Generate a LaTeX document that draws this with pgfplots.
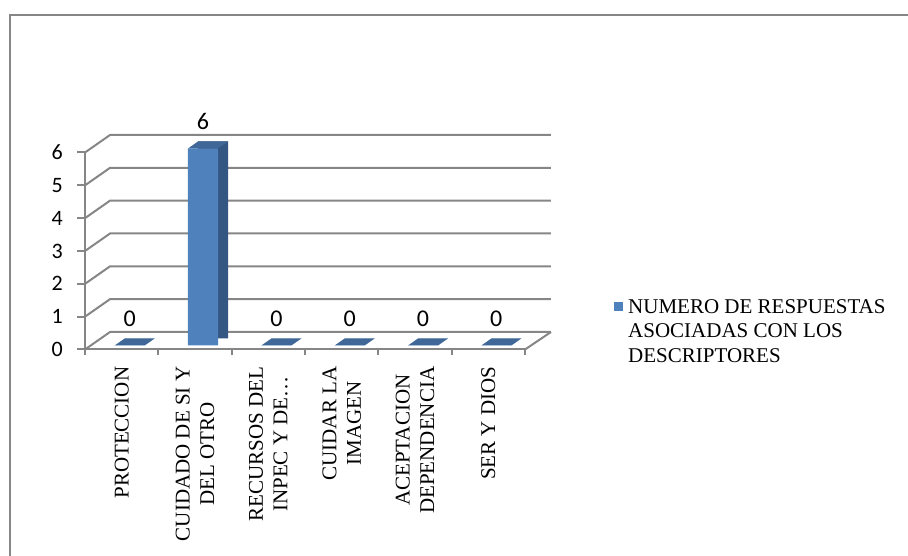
\documentclass[border=0pt]{standalone}
\usepackage{fontspec}
\setmainfont{Liberation Serif}
\newfontfamily\calibri{Carlito}
\usepackage{pgfplots}
\pgfplotsset{compat=1.18}

\definecolor{barfront}{HTML}{4F81BD}
\definecolor{barside}{HTML}{345683}
\definecolor{bartop}{HTML}{3F6797}
\definecolor{gridgray}{HTML}{868686}

% top face of a 3D bar, drawn at the front top centre of each bar
\pgfdeclareplotmark{topface}{%
  \pgfpathmoveto{\pgfpoint{-15pt}{0pt}}%
  \pgfpathlineto{\pgfpoint{15pt}{0pt}}%
  \pgfpathlineto{\pgfpoint{25pt}{7pt}}%
  \pgfpathlineto{\pgfpoint{-5pt}{7pt}}%
  \pgfpathclose
  \pgfusepathqfill}

\begin{document}
\begin{tikzpicture}
  \path[use as bounding box] (0,0) rectangle (908pt,556pt);
  \draw[gridgray, line width=2pt] (10pt,-5pt) -- (10pt,541pt) -- (915pt,541pt);
  \begin{axis}[
    at={(85pt,206.5pt)}, anchor=south west,
    scale only axis, width=440pt, height=197pt,
    xmin=-0.5, xmax=5.5, ymin=0, ymax=6,
    clip=false,
    axis x line*=bottom, axis y line*=left,
    axis line style={gridgray, line width=2pt},
    xtick={0,...,5},
    xticklabels={PROTECCION, {CUIDADO DE SI Y\\DEL OTRO}, {RECURSOS DEL\\INPEC Y DE…},
      {CUIDAR LA\\IMAGEN}, {ACEPTACION\\DEPENDENCIA}, SER Y DIOS},
    minor xtick={-0.5,0.5,...,5.5},
    ytick={0,...,6},
    tick align=outside,
    major tick length=8pt, minor tick length=6pt,
    tick style={gridgray, line width=2pt},
    major x tick style={draw=none},
    /pgf/number format/assume math mode=true,
    yticklabel style={font=\calibri\fontsize{22}{26}\selectfont, inner sep=0pt, xshift=-14pt},
    xticklabel style={font=\fontsize{21}{24.5}\selectfont, align=center, inner sep=0pt,
      yshift=-9pt, rotate=90, anchor=east},
    legend style={at={(axis description cs:1.2023,0.2563)}, anchor=north west,
      draw=none, fill=none, inner sep=0pt, column sep=5pt,
      font=\fontsize{21}{24.5}\selectfont, nodes={inner sep=0pt},
      cells={align=left}},
    legend cell align=left,
    legend image code/.code={\fill[barfront] (0pt,16.5pt) rectangle (9pt,25.5pt);},
  ]
    % side wall and back wall of the 3D frame
    \pgfplotsinvokeforeach{0,...,6}{
      \draw[gridgray, line width=2pt] (axis cs:-0.5,#1)
        -- ([xshift=25pt,yshift=17.5pt]axis cs:-0.5,#1)
        -- ([xshift=26pt,yshift=17.5pt]axis cs:5.5,#1);
    }
    \draw[gridgray, line width=2pt] (axis cs:5.5,0) -- ([xshift=26pt,yshift=17.5pt]axis cs:5.5,0);

    % side of bars
    \addplot[ybar, bar width=30pt, fill=barside, draw=none, xshift=18pt, yshift=11pt, forget plot]
      coordinates {(0,0) (1,6) (2,0) (3,0) (4,0) (5,0)};
    % front of bars
    \addplot[ybar, bar width=30pt, fill=barfront, draw=none, xshift=8pt, yshift=4pt,
      nodes near coords,
      every node near coord/.append style={font=\calibri\fontsize{24}{28}\selectfont,
        inner sep=0pt, anchor=south, yshift=19pt, text=black}]
      coordinates {(0,0) (1,6) (2,0) (3,0) (4,0) (5,0)};
    % top of bars
    \addplot[only marks, mark=topface, mark options={fill=bartop}, xshift=8pt, yshift=4pt, forget plot]
      coordinates {(0,0) (1,6) (2,0) (3,0) (4,0) (5,0)};
    \legend{{NUMERO DE RESPUESTAS\\ASOCIADAS CON LOS\\DESCRIPTORES}}
  \end{axis}
\end{tikzpicture}
\end{document}
